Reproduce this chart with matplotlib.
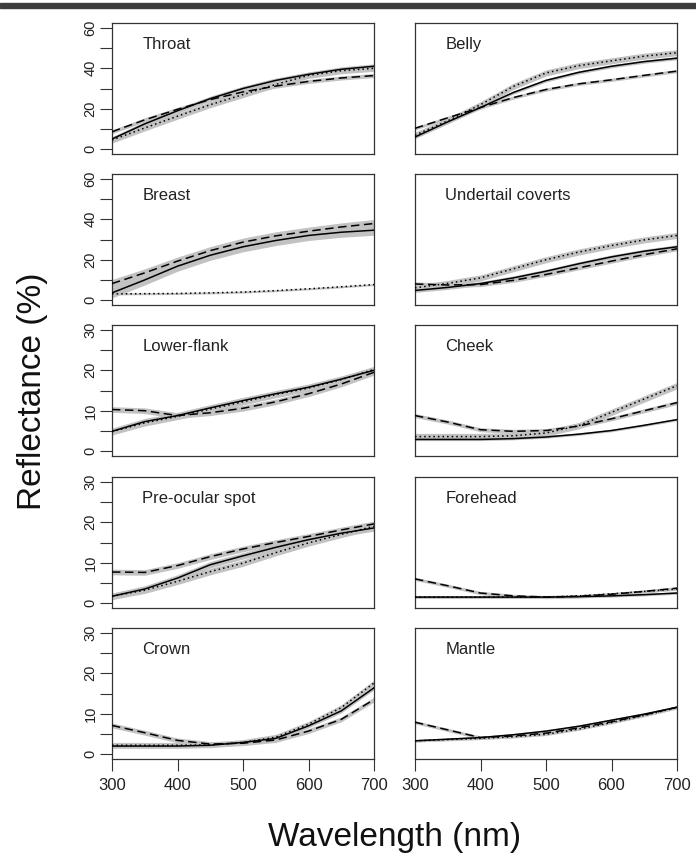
import matplotlib
matplotlib.use('Agg')
import matplotlib.pyplot as plt
from matplotlib.patches import Rectangle

plt.rcParams['font.family'] = ['Liberation Sans', 'DejaVu Sans']

# wavelength grid (nm)
wl = [300, 350, 400, 450, 500, 550, 600, 650, 700]

panels = ['Throat', 'Belly', 'Breast', 'Undertail coverts', 'Lower-flank',
          'Cheek', 'Pre-ocular spot', 'Forehead', 'Crown', 'Mantle']

# reflectance (%): solid / dashed / dotted curves
solid = {
    'Throat': [5, 12.5, 19, 25, 30, 34, 37, 39.5, 41],
    'Belly': [6, 13.5, 20.6, 28, 34, 38, 41, 43.3, 45],
    'Breast': [3.6, 10, 16.8, 22.2, 26.4, 29.5, 32, 33.6, 34.6],
    'Undertail coverts': [4.8, 6.3, 8.2, 11, 14.3, 18, 21.4, 24.2, 26.4],
    'Lower-flank': [4.9, 7.3, 8.8, 10.7, 12.5, 14.2, 15.8, 17.8, 20],
    'Cheek': [2.9, 2.9, 2.9, 3.1, 3.5, 4.2, 5.1, 6.4, 7.8],
    'Pre-ocular spot': [1.7, 3.5, 6.2, 9.5, 11.7, 13.8, 15.7, 17.3, 18.6],
    'Forehead': [1.5, 1.5, 1.5, 1.5, 1.5, 1.6, 1.8, 2.1, 2.5],
    'Crown': [2.0, 2.0, 2.0, 2.2, 2.9, 3.9, 7.0, 10.7, 16.4],
    'Mantle': [3.3, 3.7, 4.1, 4.8, 5.7, 6.9, 8.4, 9.9, 11.6],
}
dashed = {
    'Throat': [8.6, 14.5, 19.7, 24.5, 28.3, 31.2, 33.5, 35.2, 36.4],
    'Belly': [10.3, 15.5, 20.6, 25.5, 29.5, 32.3, 34.3, 36.5, 38.6],
    'Breast': [8.2, 13.5, 19.3, 24.5, 28.7, 31.8, 34.1, 36.2, 37.9],
    'Undertail coverts': [8, 7.5, 7.7, 9.8, 12.7, 16, 19.3, 22.5, 25.4],
    'Lower-flank': [10.3, 10.0, 8.8, 9.5, 10.6, 12.2, 14.2, 16.6, 19.5],
    'Cheek': [8.8, 7.2, 5.3, 4.9, 5.1, 6.2, 8, 10, 12],
    'Pre-ocular spot': [7.7, 7.6, 9.3, 11.5, 13.4, 15, 16.5, 18.1, 19.6],
    'Forehead': [6, 4.3, 2.5, 1.8, 1.5, 1.7, 2.2, 2.9, 3.7],
    'Crown': [7.1, 5.3, 3.4, 2.5, 2.7, 3.5, 5.7, 8.6, 13.5],
    'Mantle': [7.9, 6, 4.1, 4.5, 5.2, 6.5, 8, 9.7, 11.6],
}
dotted = {
    'Throat': [4.5, 10.5, 16.3, 22, 27, 32, 36.5, 38.8, 40],
    'Belly': [6.9, 14, 22, 31, 37.7, 41.3, 43.7, 46, 47.7],
    'Breast': [3.1, 3.2, 3.3, 3.6, 4, 4.7, 5.6, 6.6, 7.7],
    'Undertail coverts': [6.1, 8.3, 11, 15.5, 20, 23.8, 27, 29.8, 32],
    'Lower-flank': [4.8, 7.0, 8.6, 10.4, 12.2, 14, 15.6, 17.7, 20.2],
    'Cheek': [3.6, 3.6, 3.6, 3.8, 4.5, 6.3, 9.6, 12.9, 16.2],
    'Pre-ocular spot': [1.7, 3.2, 5.4, 7.8, 9.9, 12.5, 14.9, 17, 19],
    'Forehead': [1.5, 1.5, 1.5, 1.5, 1.5, 1.8, 2.3, 2.9, 3.5],
    'Crown': [2.2, 2.2, 2.2, 2.3, 2.9, 4.2, 7.4, 11.5, 17.6],
    'Mantle': [3.3, 3.6, 3.9, 4.3, 4.9, 6.2, 7.8, 9.6, 11.5],
}
# half-width of the grey bands (solid, dashed, dotted)
band = {
    'Throat': [1.2, 1.0, 1.5],
    'Belly': [0.8, 0.8, 1.5],
    'Breast': [2.5, 2.0, 0.5],
    'Undertail coverts': [1.0, 1.0, 1.5],
    'Lower-flank': [0.8, 0.7, 0.8],
    'Cheek': [0.3, 0.5, 0.8],
    'Pre-ocular spot': [0.8, 0.7, 0.8],
    'Forehead': [0.3, 0.4, 0.3],
    'Crown': [0.5, 0.6, 0.7],
    'Mantle': [0.3, 0.4, 0.3],
}
# y-axis max per row
row_ymax = [60, 60, 30, 30, 30]
x_ticks = [300, 400, 500, 600, 700]

W, H = 696, 856
fig = plt.figure(figsize=(W / 100, H / 100), dpi=100)
fig.patches.append(Rectangle((0, 1 - 8 / H), 1, 5 / H, transform=fig.transFigure,
                             color='#3c3c3c', zorder=0))

col_left = [112, 415]
row_top = [23, 174, 325, 477, 628]
aw, ah = 262, 131

styles = [(solid, '-'), (dashed, (0, (5.5, 3))), (dotted, (0, (1, 2)))]

for i, name in enumerate(panels):
    r, c = divmod(i, 2)
    ax = fig.add_axes([col_left[c] / W, 1 - (row_top[r] + ah) / H, aw / W, ah / H])
    for k, (series, ls) in enumerate(styles):
        y = series[name]
        se = band[name][k]
        ax.fill_between(wl, [v - se for v in y], [v + se for v in y],
                        color='#c2c2c2', lw=0, zorder=1)
    for k, (series, ls) in enumerate(styles):
        ax.plot(wl, series[name], color='black', lw=1.1, ls=ls, zorder=3)

    ymax = row_ymax[r]
    ax.set_xlim(300, 700)
    ax.set_ylim(-0.04 * ymax, 1.04 * ymax)
    ax.text(0.115, 0.80, name, transform=ax.transAxes, fontsize=12,
            color='#222222', va='baseline', ha='left')

    for sp in ax.spines.values():
        sp.set_color('#333333')
        sp.set_linewidth(0.9)

    step = ymax // 6
    yt = list(range(0, ymax + 1, step))
    if c == 0:
        ax.set_yticks(yt)
        ax.set_yticklabels([str(v) if j % 2 == 0 else '' for j, v in enumerate(yt)])
        ax.tick_params(axis='y', direction='out', length=8.5, width=0.8,
                       color='#333333', labelsize=10.5, pad=2, labelcolor='#222222')
        for lbl in ax.get_yticklabels():
            lbl.set_rotation(90)
            lbl.set_va('center')
    else:
        ax.set_yticks([])

    if r == 4:
        ax.set_xticks(x_ticks)
        ax.tick_params(axis='x', direction='out', length=8.5, width=0.8,
                       color='#333333', labelsize=12, pad=5, labelcolor='#222222')
    else:
        ax.set_xticks([])

fig.text(0.047, 1 - 391 / H, 'Reflectance (%)', rotation=90, fontsize=24,
         ha='center', va='center', color='#111111')
fig.text(395 / W, 1 - 846 / H, 'Wavelength (nm)', fontsize=24,
         ha='center', va='baseline', color='#111111')

fig.savefig('out.png', dpi=100)
